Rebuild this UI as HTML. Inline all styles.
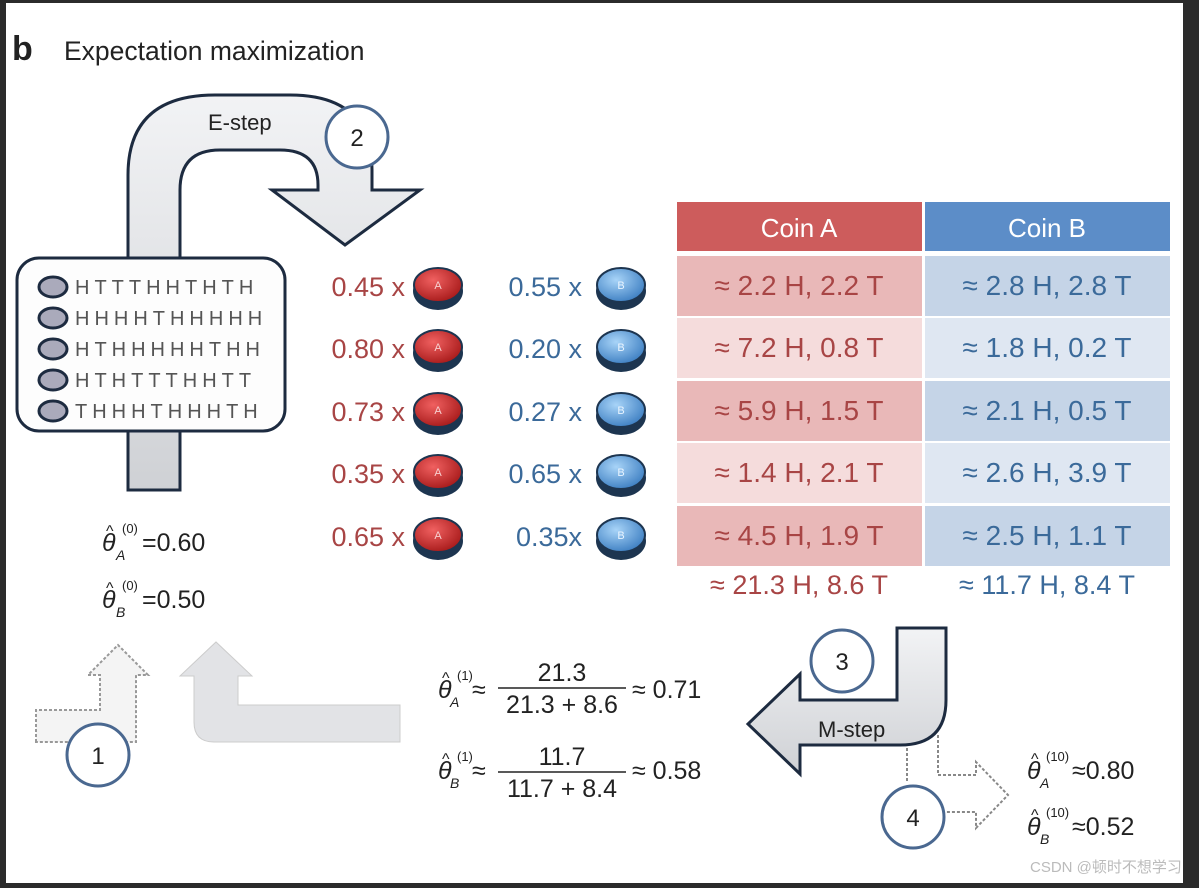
<!DOCTYPE html>
<html><head><meta charset="utf-8"><style>
body{margin:0;width:1199px;height:888px;overflow:hidden;background:#2b2b2b;font-family:"Liberation Sans",sans-serif}
#pg{position:absolute;left:6px;top:3px;width:1177px;height:880px;background:#fff}
svg{position:absolute;left:0;top:0}
</style></head><body>
<div id="pg"></div>
<svg width="1199" height="888" viewBox="0 0 1199 888" font-family="Liberation Sans, sans-serif">
<defs>
<radialGradient id="ra" cx="0.4" cy="0.35" r="0.7"><stop offset="0" stop-color="#f06060"/><stop offset="1" stop-color="#a51818"/></radialGradient>
<radialGradient id="rb" cx="0.4" cy="0.35" r="0.7"><stop offset="0" stop-color="#a8d4f8"/><stop offset="1" stop-color="#3a7cc0"/></radialGradient>
<linearGradient id="gr" x1="0" y1="0" x2="0" y2="1"><stop offset="0" stop-color="#f2f3f5"/><stop offset="1" stop-color="#cfd1d5"/></linearGradient>
</defs>
<text x="12" y="60" font-size="34" font-weight="bold" fill="#222">b</text>
<text x="64" y="60" font-size="26.5" fill="#222">Expectation maximization</text>

<!-- E-step arrow -->
<path d="M128,490 L128,175 Q128,95 215,95 L290,95 Q372,95 372,170 L372,190 L420,190 L345,245 L272,190 L318,190 L318,185 Q318,150 280,150 L220,150 Q180,150 180,190 L180,490 Z" fill="url(#gr)" stroke="#1d2b40" stroke-width="3"/>
<text x="208" y="130" font-size="22" fill="#222">E-step</text>
<circle cx="357" cy="137" r="31" fill="#fff" stroke="#4a6890" stroke-width="3"/>
<text x="357" y="146" font-size="24" text-anchor="middle" fill="#222">2</text>

<!-- data box -->
<rect x="17" y="258" width="268" height="173" rx="22" fill="#fdfdfd" stroke="#1d2b40" stroke-width="3"/>
<g font-size="20" fill="#555" letter-spacing="5">
<g fill="#aab" stroke="#1d2b40" stroke-width="3"><ellipse cx="53" cy="287" rx="14" ry="10"/><ellipse cx="53" cy="318" rx="14" ry="10"/><ellipse cx="53" cy="349" rx="14" ry="10"/><ellipse cx="53" cy="380" rx="14" ry="10"/><ellipse cx="53" cy="411" rx="14" ry="10"/></g>
<text x="75" y="294">HTTTHHTHTH</text><text x="75" y="325">HHHHTHHHHH</text><text x="75" y="356">HTHHHHHTHH</text><text x="75" y="387">HTHTTTHHTT</text><text x="75" y="418">THHHTHHHTH</text>
</g>

<!-- theta 0 -->
<g font-size="25" fill="#222">
<text x="102" y="551" font-style="italic">θ</text><text x="106" y="536" font-size="16">^</text><text x="116" y="560" font-size="14" font-style="italic">A</text><text x="122" y="533" font-size="13">(0)</text><text x="142" y="551">=0.60</text>
<text x="102" y="608" font-style="italic">θ</text><text x="106" y="593" font-size="16">^</text><text x="116" y="617" font-size="14" font-style="italic">B</text><text x="122" y="590" font-size="13">(0)</text><text x="142" y="608">=0.50</text>
</g>

<!-- step 1 arrows -->
<path d="M36,742 L36,710 L100,710 L100,675 L88,675 L118,645 L148,675 L136,675 L136,742 Z" fill="#f4f4f4" stroke="#999" stroke-width="2" stroke-dasharray="3,2"/>
<path d="M400,742 L400,705 L238,705 L238,676 L252,676 L216,642 L180,676 L194,676 L194,722 Q194,742 214,742 Z" fill="#e2e3e6" stroke="#ccc" stroke-width="1"/>
<circle cx="98" cy="755" r="31" fill="#fff" stroke="#4a6890" stroke-width="3"/>
<text x="98" y="764" font-size="24" text-anchor="middle" fill="#222">1</text>

<g font-size="27" id="wg"></g>
<g id="tbl"></g>

<!-- M-step -->
<path d="M897,628 L946,628 L946,700 Q946,745 900,745 L800,745 L800,774 L748,724 L800,674 L800,700 L897,700 Z" fill="url(#gr)" stroke="#1d2b40" stroke-width="3"/>
<text x="818" y="737" font-size="22" fill="#222">M-step</text>
<circle cx="842" cy="661" r="31" fill="#fff" stroke="#4a6890" stroke-width="3"/>
<text x="842" y="670" font-size="24" text-anchor="middle" fill="#222">3</text>
<path d="M907,748 L907,782 M938,735 L938,775 L976,775 L976,762 L1008,795 L976,828 L976,812 L945,812" fill="none" stroke="#888" stroke-width="2" stroke-dasharray="3,2"/>
<circle cx="913" cy="817" r="31" fill="#fff" stroke="#4a6890" stroke-width="3"/>
<text x="913" y="826" font-size="24" text-anchor="middle" fill="#222">4</text>

<!-- updated params -->
<g font-size="25" fill="#222">
<text x="438" y="698" font-style="italic">θ</text><text x="442" y="683" font-size="16">^</text><text x="450" y="707" font-size="14" font-style="italic">A</text><text x="457" y="680" font-size="13">(1)</text><text x="472" y="698">≈</text>
<text x="562" y="681" text-anchor="middle">21.3</text><line x1="498" y1="688" x2="626" y2="688" stroke="#222" stroke-width="1.5"/><text x="562" y="713" text-anchor="middle">21.3 + 8.6</text>
<text x="632" y="698">≈ 0.71</text>
<text x="438" y="779" font-style="italic">θ</text><text x="442" y="764" font-size="16">^</text><text x="450" y="788" font-size="14" font-style="italic">B</text><text x="457" y="761" font-size="13">(1)</text><text x="472" y="779">≈</text>
<text x="562" y="765" text-anchor="middle">11.7</text><line x1="498" y1="772" x2="626" y2="772" stroke="#222" stroke-width="1.5"/><text x="562" y="797" text-anchor="middle">11.7 + 8.4</text>
<text x="632" y="779">≈ 0.58</text>
<text x="1027" y="779" font-style="italic">θ</text><text x="1031" y="764" font-size="16">^</text><text x="1040" y="788" font-size="14" font-style="italic">A</text><text x="1046" y="761" font-size="13">(10)</text><text x="1072" y="779">≈0.80</text>
<text x="1027" y="835" font-style="italic">θ</text><text x="1031" y="820" font-size="16">^</text><text x="1040" y="844" font-size="14" font-style="italic">B</text><text x="1046" y="817" font-size="13">(10)</text><text x="1072" y="835">≈0.52</text>
</g>
<text x="1030" y="872" font-size="15" fill="#bbb" font-family="Liberation Sans, Noto Sans CJK SC, sans-serif">CSDN @顿时不想学习</text>
</svg>
<script>
const wA=["0.45","0.80","0.73","0.35","0.65"];
const wB=["0.55","0.20","0.27","0.65","0.35"];
const cellA=["≈ 2.2 H, 2.2 T","≈ 7.2 H, 0.8 T","≈ 5.9 H, 1.5 T","≈ 1.4 H, 2.1 T","≈ 4.5 H, 1.9 T"];
const cellB=["≈ 2.8 H, 2.8 T","≈ 1.8 H, 0.2 T","≈ 2.1 H, 0.5 T","≈ 2.6 H, 3.9 T","≈ 2.5 H, 1.1 T"];
const totA="≈ 21.3 H, 8.6 T", totB="≈ 11.7 H, 8.4 T";
const NS="http://www.w3.org/2000/svg";
function mk(t,a,p,txt){const e=document.createElementNS(NS,t);for(const k in a)e.setAttribute(k,a[k]);if(txt!=null)e.textContent=txt;p.appendChild(e);return e;}
const wg=document.getElementById('wg'),tb=document.getElementById('tbl');
const rowY=[256,318,381,443,506];
rowY.forEach((y,i)=>{
 const cy=y+30;
 const ta=mk('text',{x:405,y:cy+10,'text-anchor':'end',fill:'#a84545'},wg,wA[i]+" x");
 
 
 const tbt=mk('text',{x:582,y:cy+10,'text-anchor':'end',fill:'#3b6a9a'},wg,wB[i]+(i==4?"x":" x"));
 
 
 [[438,'url(#ra)','A','#f8d0d0'],[621,'url(#rb)','B','#e8f4ff']].forEach(c=>{
  const g=mk('g',{},wg);
  
  
  mk('ellipse',{cx:c[0],cy:cy+5,rx:25,ry:19,fill:'#1d3550'},g);
  mk('ellipse',{cx:c[0],cy:cy-1,rx:24,ry:17,fill:c[1],stroke:'#1d3550','stroke-width':2},g);
  mk('text',{x:c[0],y:cy+3,'text-anchor':'middle','font-size':11,fill:c[3]},g,c[2]);
 });
 const ra=mk('rect',{x:677,y:y,width:245,height:60,fill:i%2?'#f5dcdc':'#e9b8b8'},tb);
 
 
 const rb=mk('rect',{x:925,y:y,width:245,height:60,fill:i%2?'#dfe7f2':'#c5d4e7'},tb);
 
 
 mk('text',{x:799,y:y+39,'text-anchor':'middle','font-size':28,fill:'#a84545'},tb,cellA[i]);
 mk('text',{x:1047,y:y+39,'text-anchor':'middle','font-size':28,fill:'#3b6a9a'},tb,cellB[i]);
});
const ha=mk('rect',{x:677,y:202,width:245,height:49,fill:'#cd5c5c'},tb);


const hb=mk('rect',{x:925,y:202,width:245,height:49,fill:'#5c8dc8'},tb);


mk('text',{x:799,y:237,'text-anchor':'middle','font-size':26,fill:'#fff'},tb,"Coin A");
mk('text',{x:1047,y:237,'text-anchor':'middle','font-size':26,fill:'#fff'},tb,"Coin B");
const t1=mk('text',{x:799,y:594,'text-anchor':'middle','font-size':27,fill:'#a84545'},tb,totA);


const t2=mk('text',{x:1047,y:594,'text-anchor':'middle','font-size':27,fill:'#3b6a9a'},tb,totB);


</script>
</body></html>
